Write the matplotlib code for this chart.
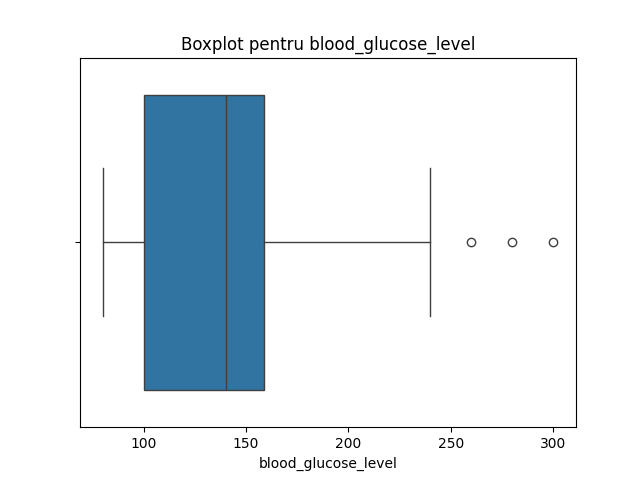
import matplotlib
matplotlib.use("Agg")
import matplotlib.pyplot as plt

# summary
whisker_low = 80
q1 = 100
median = 140
q3 = 159
whisker_high = 240
outliers = [260, 280, 300]

stats = [{"whislo": whisker_low, "q1": q1, "med": median, "q3": q3,
          "whishi": whisker_high, "fliers": outliers}]

line_c = "#3f3f3f"
fig, ax = plt.subplots(figsize=(6.4, 4.8), dpi=100)
ax.bxp(stats, positions=[0], vert=False, widths=0.8, patch_artist=True, showcaps=True,
       boxprops=dict(facecolor="#3274a1", edgecolor=line_c, linewidth=1),
       medianprops=dict(color=line_c, linewidth=1),
       whiskerprops=dict(color=line_c, linewidth=1),
       capprops=dict(color=line_c, linewidth=1),
       flierprops=dict(marker="o", markerfacecolor="none", markeredgecolor=line_c,
                       markersize=6, linewidth=0))
# seaborn draws caps as zero-length; remove caps to match
for c in ax.lines:
    pass
ax.set_ylim(0.5, -0.5)
ax.set_yticks([0])
ax.set_yticklabels([""])
ax.set_xlim(69, 311)
ax.set_xlabel("blood_glucose_level")
ax.set_title("Boxplot pentru blood_glucose_level")
fig.savefig("out.png")
